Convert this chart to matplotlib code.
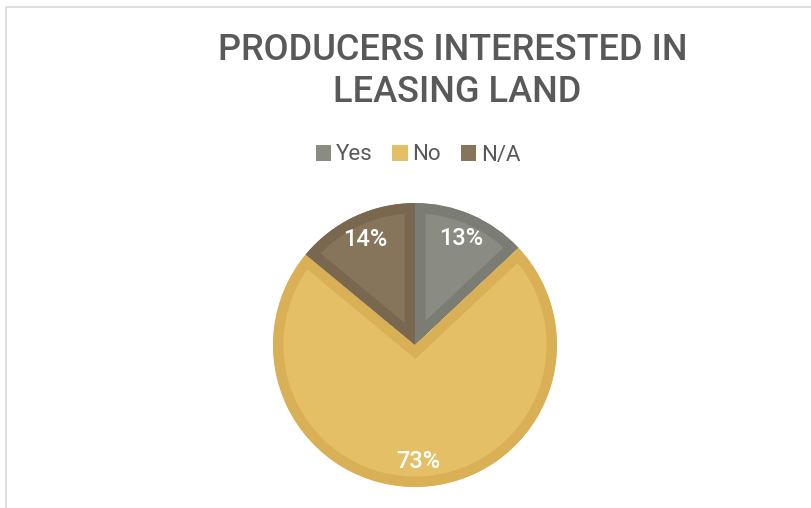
import numpy as np
import matplotlib.pyplot as plt
from matplotlib.patches import Patch, Rectangle

labels = ["Yes", "No", "N/A"]
shares = [13, 73, 14]
pct_text = ["13%", "73%", "14%"]

fills = ["#8a8b83", "#e5bf66", "#86745b"]
edges = ["#7b7c74", "#d9b055", "#79684f"]

plt.rcParams['font.family'] = ['Roboto', 'DejaVu Sans']

fig = plt.figure(figsize=(8.12, 5.08), dpi=100)
W, H = 812, 508

# light frame (only left and top visible in the crop)
fig.patches.append(Rectangle((5.5 / W, -0.1), 1.2, 1 - 7.5 / H + 0.1,
                             transform=fig.transFigure, fill=False,
                             edgecolor="#d9d9d9", linewidth=1.2))

# title
fig.text(453 / W, 1 - 50 / H, "PRODUCERS INTERESTED IN", ha="center", va="center",
         fontsize=26, color="#595959", fontweight="medium")
fig.text(457 / W, 1 - 93 / H, "LEASING LAND", ha="center", va="center",
         fontsize=26, color="#595959", fontweight="medium")

# pie
cx, cy, r = 415, 508 - 345, 142
ax = fig.add_axes([(cx - r) / W, (cy - r) / H, 2 * r / W, 2 * r / H])
wedges, _ = ax.pie(shares, colors=fills, startangle=90, counterclock=False,
                   radius=1, wedgeprops=dict(linewidth=15))
for w, ec in zip(wedges, edges):
    w.set_edgecolor(ec)
    w.set_clip_path(w)
    w.set_clip_on(True)

start = 90.0
for s, t in zip(shares, pct_text):
    mid = np.deg2rad(start - s / 100 * 360 / 2)
    ax.text(0.82 * np.cos(mid), 0.82 * np.sin(mid), t, ha="center", va="center",
            color="white", fontsize=17, fontweight="medium")
    start -= s / 100 * 360
ax.set_xlim(-1, 1)
ax.set_ylim(-1, 1)
ax.set_aspect("equal")
ax.axis("off")

# legend
handles = [Patch(facecolor=c, edgecolor="none") for c in fills]
fig.legend(handles, labels, loc="center", bbox_to_anchor=(418 / W, 1 - 155 / H),
           ncol=3, frameon=False, fontsize=16, handlelength=0.7, handleheight=0.7,
           handletextpad=0.2, columnspacing=0.9, labelcolor="#595959")

fig.savefig("out.png", dpi=100)
